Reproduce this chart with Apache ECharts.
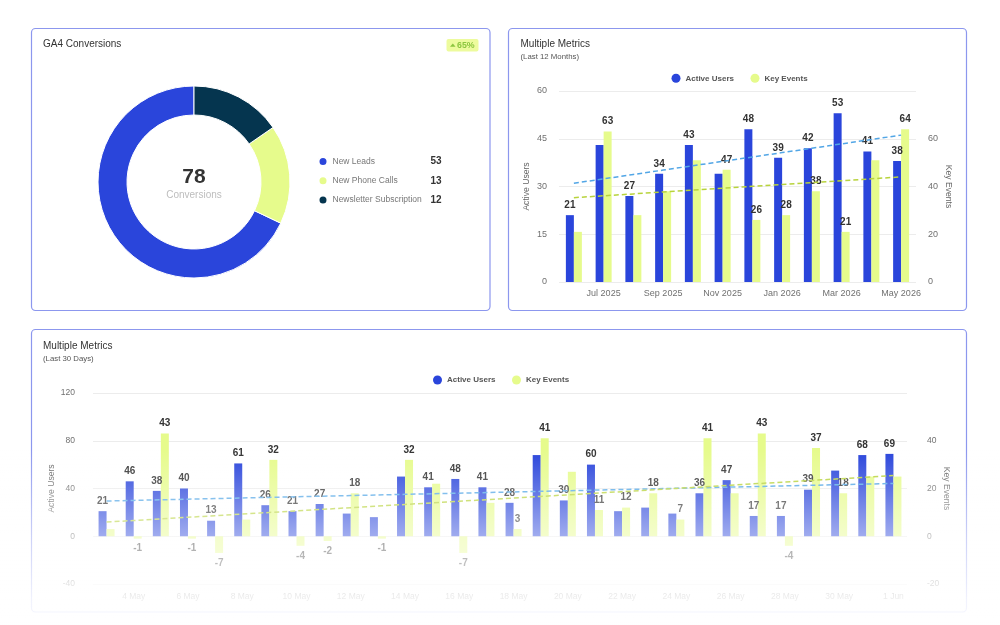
<!DOCTYPE html>
<html>
<head>
<meta charset="utf-8">
<script src="https://cdn.jsdelivr.net/npm/echarts@6/dist/echarts.min.js"></script>
<style>
html,body{margin:0;padding:0;background:#fff;}
#c{width:1000px;height:625px;}
</style>
</head>
<body>
<div id="c"></div>
<script>
// ---------- DATA ----------
const donutNames = ['New Leads', 'New Phone Calls', 'Newsletter Subscription'];
const donutValues = [53, 13, 12];
const badgeText = '65%';

const monthLabels = ['Jun 2025','Jul 2025','Aug 2025','Sep 2025','Oct 2025','Nov 2025','Dec 2025','Jan 2026','Feb 2026','Mar 2026','Apr 2026','May 2026'];
const monthActiveUsers = [21, 43, 27, 34, 43, 34, 48, 39, 42, 53, 41, 38];
const monthKeyEvents   = [21, 63, 28, 38, 51, 47, 26, 28, 38, 21, 51, 64];

const dayLabels = ['3 May','4 May','5 May','6 May','7 May','8 May','9 May','10 May','11 May','12 May','13 May','14 May','15 May','16 May','17 May','18 May','19 May','20 May','21 May','22 May','23 May','24 May','25 May','26 May','27 May','28 May','29 May','30 May','31 May','1 Jun'];
const dayActiveUsers = [21, 46, 38, 40, 13, 61, 26, 21, 27, 19, 16, 50, 41, 48, 41, 28, 68, 30, 60, 21, 24, 19, 36, 47, 17, 17, 39, 55, 68, 69];
const dayKeyEvents   = [3, -1, 43, -1, -7, 7, 32, -4, -2, 18, -1, 32, 22, -7, 14, 3, 41, 27, 11, 12, 18, 7, 41, 18, 43, -4, 37, 18, 25, 25];

// axis scales
const monthLeftAxis  = {min: 0, max: 60, interval: 15};
const monthRightAxis = {min: 0, max: 80, interval: 20};
const dayLeftAxis    = {min: -40, max: 120, interval: 40};
const dayRightAxis   = {min: -20, max: 60, interval: 20};

// which data labels are not shown in the reference
const monthActiveHiddenLabels = [1, 5];
const monthKeyHiddenLabels = [0, 2, 3, 4, 10];
const dayActiveHiddenLabels = [9, 10, 11, 16, 19, 20, 21, 27];
const dayKeyHiddenLabels = [0, 5, 12, 14, 17, 23, 28, 29];

// ---------- STYLE ----------
const FONT = '"Liberation Sans", Arial, Helvetica, sans-serif';
const BLUE = '#2a45db';
const YELLOW = '#e6fb8c';
const NAVY = '#05354f';
const TREND_BLUE = '#52a6e6';
const TREND_YELLOW = '#b8d33c';
const BORDER = '#8c97ee';

function linearTrend(values) {
  const n = values.length;
  const mx = (n - 1) / 2;
  const my = values.reduce((a, b) => a + b, 0) / n;
  let sxy = 0, sxx = 0;
  values.forEach((v, i) => { sxy += (i - mx) * (v - my); sxx += (i - mx) * (i - mx); });
  const slope = sxy / sxx;
  return values.map((v, i) => +(my + slope * (i - mx)).toFixed(3));
}

function barData(values, hidden) {
  return values.map((v, i) => ({
    value: v,
    label: hidden.includes(i) ? {show: false} : {show: true, position: v < 0 ? 'bottom' : 'top'}
  }));
}

const barLabel = {show: true, position: 'top', distance: 5, fontSize: 10, fontWeight: 'bold', color: '#333', fontFamily: FONT};

const total = donutValues.reduce((a, b) => a + b, 0);

const chart = echarts.init(document.getElementById('c'));

const axisLabelStyle = {color: '#707070', fontSize: 9, fontFamily: FONT};
const axisNameStyle = {color: '#666', fontSize: 8.6, fontFamily: FONT};

const option = {
  animation: false,
  textStyle: {fontFamily: FONT},
  title: [
    {text: 'GA4 Conversions', left: 43, top: 39.5, padding: 0,
     textStyle: {fontSize: 10, fontWeight: 'normal', color: '#333'}},
    {text: 'Multiple Metrics', subtext: '(Last 12 Months)', left: 520.5, top: 39.5, padding: 0, itemGap: 3,
     textStyle: {fontSize: 10, fontWeight: 'normal', color: '#333'},
     subtextStyle: {fontSize: 7.8, color: '#555'}},
    {text: 'Multiple Metrics', subtext: '(Last 30 Days)', left: 43, top: 341.5, padding: 0, itemGap: 3,
     textStyle: {fontSize: 10, fontWeight: 'normal', color: '#333'},
     subtextStyle: {fontSize: 7.8, color: '#555'}}
  ],
  legend: [
    {data: donutNames, orient: 'vertical', left: 317.5, top: 156, padding: 0,
     itemWidth: 9, itemHeight: 9, itemGap: 8.3, icon: 'circle', selectedMode: false,
     formatter: name => `{n|${name}}{v|${donutValues[donutNames.indexOf(name)]}}`,
     textStyle: {rich: {
       n: {fontSize: 8.5, color: '#777', width: 89, lineHeight: 12, fontFamily: FONT},
       v: {fontSize: 10, fontWeight: 'bold', color: '#333', width: 20, align: 'right', lineHeight: 12, fontFamily: FONT}
     }}},
    {data: ['Active Users', 'Key Events'], left: 671.5, top: 73.8, padding: 0,
     itemWidth: 9, itemHeight: 9, itemGap: 16.5, icon: 'circle', selectedMode: false,
     textStyle: {fontSize: 8, fontWeight: 'bold', color: '#555'}},
    {data: ['Active Users', 'Key Events'], left: 433, top: 375.5, padding: 0,
     itemWidth: 9, itemHeight: 9, itemGap: 16.5, icon: 'circle', selectedMode: false,
     textStyle: {fontSize: 8, fontWeight: 'bold', color: '#555'}}
  ],
  grid: [
    {left: 559, right: 84, top: 91, bottom: 343},
    {left: 93, right: 93, top: 393, bottom: 41}
  ],
  xAxis: [
    {type: 'category', gridIndex: 0, data: monthLabels,
     axisLine: {show: false}, axisTick: {show: false},
     axisLabel: Object.assign({}, axisLabelStyle, {margin: 7, interval: i => i % 2 === 1})},
    {type: 'category', gridIndex: 1, data: dayLabels,
     axisLine: {show: false, onZero: false}, axisTick: {show: false},
     axisLabel: Object.assign({}, axisLabelStyle, {fontSize: 8.5, margin: 8, interval: i => i % 2 === 1})}
  ],
  yAxis: [
    Object.assign({type: 'value', gridIndex: 0, position: 'left', name: 'Active Users',
     nameLocation: 'middle', nameRotate: 90, nameGap: 27.5, nameMoveOverlap: false, nameTextStyle: axisNameStyle,
     axisLabel: Object.assign({}, axisLabelStyle, {margin: 12}),
     splitLine: {lineStyle: {color: '#ececec'}}}, monthLeftAxis),
    Object.assign({type: 'value', gridIndex: 0, position: 'right', name: 'Key Events',
     nameLocation: 'middle', nameRotate: -90, nameGap: 27.5, nameMoveOverlap: false, nameTextStyle: axisNameStyle,
     axisLabel: Object.assign({}, axisLabelStyle, {margin: 12, showMaxLabel: false}),
     splitLine: {show: false}}, monthRightAxis),
    Object.assign({type: 'value', gridIndex: 1, position: 'left', name: 'Active Users',
     nameLocation: 'middle', nameRotate: 90, nameGap: 37, nameMoveOverlap: false, nameTextStyle: axisNameStyle,
     axisLabel: Object.assign({}, axisLabelStyle, {fontSize: 8.5, margin: 18}),
     splitLine: {lineStyle: {color: '#ececec'}}}, dayLeftAxis),
    Object.assign({type: 'value', gridIndex: 1, position: 'right', name: 'Key Events',
     nameLocation: 'middle', nameRotate: -90, nameGap: 35, nameMoveOverlap: false, nameTextStyle: axisNameStyle,
     axisLabel: Object.assign({}, axisLabelStyle, {fontSize: 8.5, margin: 20, showMaxLabel: false}),
     splitLine: {show: false}}, dayRightAxis)
  ],
  series: [
    {type: 'pie', name: 'GA4 Conversions', center: [194, 182], radius: [67, 96],
     clockwise: false, startAngle: 90, silent: true,
     label: {show: false}, labelLine: {show: false},
     itemStyle: {borderColor: '#fff', borderWidth: 1},
     data: donutNames.map((n, i) => ({name: n, value: donutValues[i], itemStyle: {color: [BLUE, YELLOW, NAVY][i]}}))},

    {type: 'bar', name: 'Active Users', xAxisIndex: 0, yAxisIndex: 0, barWidth: 8, barGap: '0%',
     itemStyle: {color: BLUE}, label: barLabel, silent: true,
     data: barData(monthActiveUsers, monthActiveHiddenLabels)},
    {type: 'bar', name: 'Key Events', xAxisIndex: 0, yAxisIndex: 1, barWidth: 8, barGap: '0%',
     itemStyle: {color: YELLOW}, label: barLabel, silent: true,
     data: barData(monthKeyEvents, monthKeyHiddenLabels)},
    {type: 'line', name: 'trend-au-12', xAxisIndex: 0, yAxisIndex: 0, symbol: 'none', z: 5, silent: true,
     lineStyle: {color: TREND_BLUE, width: 1.5, type: [5, 3]}, data: linearTrend(monthActiveUsers)},
    {type: 'line', name: 'trend-ke-12', xAxisIndex: 0, yAxisIndex: 1, symbol: 'none', z: 5, silent: true,
     lineStyle: {color: TREND_YELLOW, width: 1.5, type: [5, 3]}, data: linearTrend(monthKeyEvents)},

    {type: 'bar', name: 'Active Users', xAxisIndex: 1, yAxisIndex: 2, barWidth: 8, barGap: '0%',
     itemStyle: {color: BLUE}, label: barLabel, silent: true,
     data: barData(dayActiveUsers, dayActiveHiddenLabels)},
    {type: 'bar', name: 'Key Events', xAxisIndex: 1, yAxisIndex: 3, barWidth: 8, barGap: '0%',
     itemStyle: {color: YELLOW}, label: barLabel, silent: true,
     data: barData(dayKeyEvents, dayKeyHiddenLabels)},
    {type: 'line', name: 'trend-au-30', xAxisIndex: 1, yAxisIndex: 2, symbol: 'none', z: 5, silent: true,
     lineStyle: {color: TREND_BLUE, width: 1.5, type: [5, 3]}, data: linearTrend(dayActiveUsers)},
    {type: 'line', name: 'trend-ke-30', xAxisIndex: 1, yAxisIndex: 3, symbol: 'none', z: 5, silent: true,
     lineStyle: {color: TREND_YELLOW, width: 1.5, type: [5, 3]}, data: linearTrend(dayKeyEvents)}
  ],
  graphic: [
    {type: 'rect', silent: true, shape: {x: 31.5, y: 28.5, width: 458.5, height: 282, r: 4},
     style: {fill: 'none', stroke: BORDER, lineWidth: 1.2}},
    {type: 'rect', silent: true, shape: {x: 508.5, y: 28.5, width: 458, height: 282, r: 4},
     style: {fill: 'none', stroke: BORDER, lineWidth: 1.2}},
    {type: 'rect', silent: true, shape: {x: 31.5, y: 329.5, width: 935, height: 282.5, r: 4},
     style: {fill: 'none', stroke: BORDER, lineWidth: 1.2}},
    // badge
    {type: 'rect', silent: true, shape: {x: 446.5, y: 39, width: 32, height: 12.5, r: 2},
     style: {fill: '#edfb9d'}},
    {type: 'polygon', silent: true, shape: {points: [[450, 46.8], [455.6, 46.8], [452.8, 43.4]]},
     style: {fill: '#8cc63f'}},
    {type: 'text', silent: true, x: 457, y: 45.3,
     style: {text: badgeText, fontSize: 8.8, fontWeight: 'bold', fill: '#8cc63f', fontFamily: FONT,
             align: 'left', verticalAlign: 'middle'}},
    // donut center
    {type: 'text', silent: true, x: 194, y: 177.5,
     style: {text: String(total), fontSize: 21, fontWeight: 'bold', fill: '#333', fontFamily: FONT,
             align: 'center', verticalAlign: 'middle'}},
    {type: 'text', silent: true, x: 194, y: 195.5,
     style: {text: 'Conversions', fontSize: 10, fill: '#bdbdbd', fontFamily: FONT,
             align: 'center', verticalAlign: 'middle'}},
    // bottom fade overlay
    {type: 'rect', silent: true, z: 100, shape: {x: 0, y: 450, width: 1000, height: 175},
     style: {fill: {type: 'linear', x: 0, y: 0, x2: 0, y2: 1, colorStops: [
       {offset: 0, color: 'rgba(255,255,255,0)'},
       {offset: 0.5, color: 'rgba(255,255,255,0.56)'},
       {offset: 0.78, color: 'rgba(255,255,255,0.8)'},
       {offset: 0.86, color: 'rgba(255,255,255,0.88)'},
       {offset: 0.93, color: 'rgba(255,255,255,0.9)'},
       {offset: 1, color: 'rgba(255,255,255,0.93)'}
     ]}}}
  ]
};

chart.setOption(option);
</script>
</body>
</html>
